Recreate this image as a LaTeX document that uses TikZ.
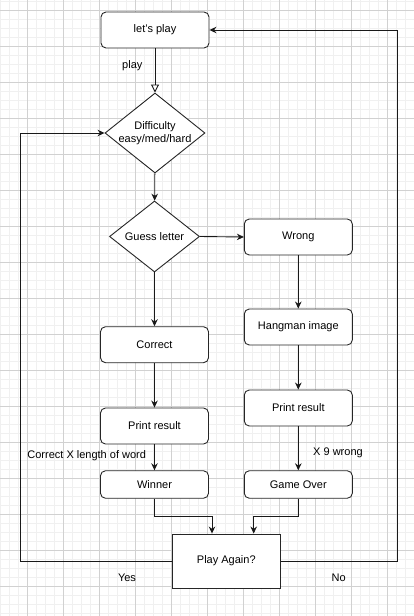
\documentclass[tikz,border=0pt]{standalone}
\usepackage{fontspec}
\setmainfont{Liberation Sans}
\usetikzlibrary{shapes.geometric,arrows.meta}

\tikzset{
  box/.style={draw=black!85, line width=0.9pt, rounded corners=5pt,
    minimum width=108pt, minimum height=36pt, inner sep=0pt, font=\fontsize{11}{13}\selectfont},
  shortbox/.style={box, minimum height=27.5pt},
  plainbox/.style={box, rounded corners=0pt, minimum height=54pt},
  decision/.style={draw=black!85, line width=0.9pt, diamond, inner sep=0pt},
  flow/.style={draw=black!90, line width=0.9pt, -{Stealth[length=7pt,width=6.5pt]}},
  openflow/.style={draw=black!90, line width=0.9pt, -{Triangle[open,length=8pt,width=8pt]}},
  note/.style={font=\fontsize{11}{13}\selectfont, inner sep=0pt},
}

\begin{document}
\begin{tikzpicture}[x=1pt,y=-1pt]
  % canvas and grid
  \useasboundingbox (0,0) rectangle (414,616);
  \fill[white] (0,0) rectangle (414,616);
  \foreach \gx in {0,9,...,414} \draw[black!6, line width=0.8pt] (\gx,0) -- (\gx,616);
  \foreach \gy in {1,10,...,616} \draw[black!6, line width=0.8pt] (0,\gy) -- (414,\gy);
  \foreach \gx in {27,63,...,414} \draw[black!18, line width=0.8pt] (\gx,0) -- (\gx,616);
  \foreach \gy in {10,46,...,616} \draw[black!18, line width=0.8pt] (0,\gy) -- (414,\gy);

  % nodes
  \node[box, fill=white] (start) at (155,30) {let's play};
  \node[decision, fill=white, minimum width=100pt, minimum height=80pt,
        label={[align=center, note, name=difftext]center:Difficulty\\easy/med/hard}] (diff) at (155,133) {};
  \node[decision, fill=white, minimum width=90pt, minimum height=71pt,
        label={[note, name=guesstext]center:Guess letter}] (guess) at (154.5,236.5) {};
  \node[box, fill=white] (wrong) at (298.3,237) {Wrong};
  \node[box, fill=white] (correct) at (154.5,344.7) {Correct};
  \node[box, fill=white] (hang) at (298.3,327) {Hangman image};
  \node[box, fill=white] (printL) at (154.5,426) {Print result};
  \node[box, fill=white] (printR) at (298.3,408) {Print result};
  \node[shortbox, fill=white] (winner) at (154.5,484.5) {Winner};
  \node[shortbox, fill=white] (over) at (298.3,484.5) {Game Over};
  \node[plainbox, fill=white] (again) at (226.3,561) {Play Again?};

  % labels
  \node[note] (lplay) at (132.3,66) {play};
  \node[note] (lcorrect) at (86.7,456) {Correct X length of word};
  \node[note] (lnine) at (338,452.5) {X 9 wrong};
  \node[note] (lyes) at (127,578) {Yes};
  \node[note] (lno) at (338.7,578) {No};

  % turning points of the loops
  \coordinate (mL) at (212,516);
  \coordinate (mR) at (253.7,516);

  % connectors
  \draw[openflow] (start) -- (diff);
  \draw[flow] (diff) -- (guess);
  \draw[flow] (guess.east) -- (wrong.west);
  \draw[flow] (guess) -- (correct);
  \draw[flow] (wrong) -- (hang);
  \draw[flow] (correct) -- (printL);
  \draw[flow] (hang) -- (printR);
  \draw[flow] (printL) -- (winner);
  \draw[flow] (printR) -- (over);
  \draw[flow] (winner.south) |- (mL) -- (mL |- again.north);
  \draw[flow] (over.south) |- (mR) -- (mR |- again.north);
  \draw[flow] (again.west) -- (20,561) |- (diff.west);
  \draw[flow] (again.east) -- (397.7,561) |- (start.east);
\end{tikzpicture}
\end{document}
